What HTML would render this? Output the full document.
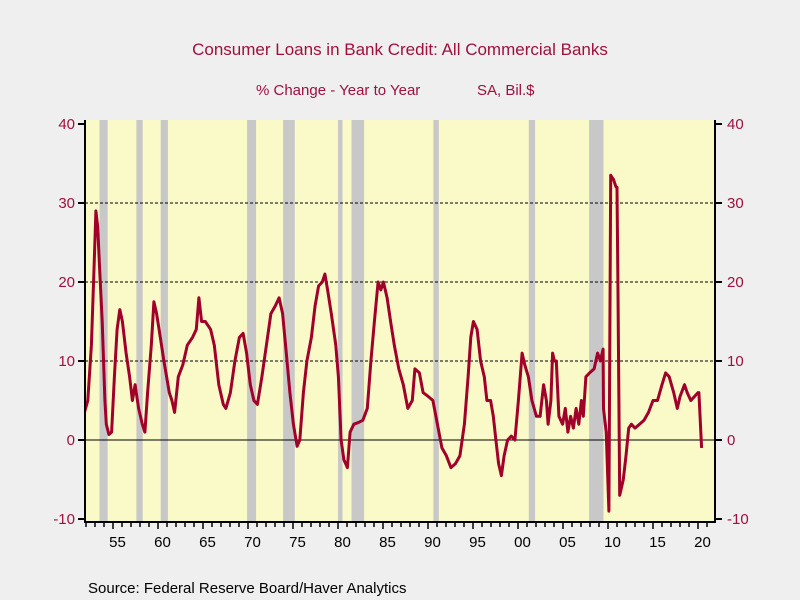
<!DOCTYPE html>
<html><head><meta charset="utf-8"><style>
html,body{margin:0;padding:0;background:#efefef;}
svg{display:block;font-family:"Liberation Sans",sans-serif;}
</style></head><body>
<svg id="s" width="800" height="600" viewBox="0 0 800 600">
<defs><clipPath id="cp"><rect x="86" y="118" width="628" height="404"/></clipPath></defs>
<rect width="800" height="600" fill="#efefef"/>
<text x="400" y="55" text-anchor="middle" font-size="17" fill="#a0103c">Consumer Loans in Bank Credit: All Commercial Banks</text>
<text x="256" y="95" font-size="15" fill="#a0103c">% Change - Year to Year</text>
<text x="477" y="95" font-size="15" fill="#a0103c">SA, Bil.$</text>
<text x="88" y="593" font-size="15" fill="#000">Source:  Federal Reserve Board/Haver Analytics</text>
<rect x="85" y="120" width="630" height="402" fill="#fafac8"/>
<g id="rec" fill="#c8c8c8"></g>
<g id="grid"></g>
<polyline id="ln" clip-path="url(#cp)" fill="none" stroke="#a0002a" stroke-width="3" stroke-linejoin="round"/>
<g id="ax" stroke="#000" stroke-width="2" fill="none"></g>
<g id="lab" font-size="15" fill="#a0103c"></g>
<g id="xl" font-size="15" fill="#000" text-anchor="middle"></g>
</svg>
<script>
var NS="http://www.w3.org/2000/svg";
function X(y){return 113+9.0*(y-1955);}
function Y(v){return 440-7.9*v;}
function el(p,t,a,txt){var e=document.createElementNS(NS,t);for(var k in a)e.setAttribute(k,a[k]);if(txt!==undefined)e.textContent=txt;document.getElementById(p).appendChild(e);return e;}
var rec=[[1953.5,1954.4],[1957.6,1958.3],[1960.3,1961.1],[1969.9,1970.9],[1973.9,1975.2],[1980.0,1980.5],[1981.5,1982.9],[1990.6,1991.2],[2001.2,2001.9],[2007.9,2009.5]];
rec.forEach(function(r){el("rec","rect",{x:X(r[0]),y:120,width:X(r[1])-X(r[0]),height:402});});
[10,20,30].forEach(function(v){el("grid","line",{x1:85,x2:715,y1:Y(v),y2:Y(v),stroke:"#000","stroke-width":1,"stroke-dasharray":"3,2"});});
el("grid","line",{x1:85,x2:715,y1:Y(0),y2:Y(0),stroke:"#000","stroke-width":1});
var d=[1951.5,2,1951.8,5,1952.2,12,1952.5,22,1952.7,29,1952.9,27,1953.1,22,1953.4,15,1953.7,5,1954,2,1954.3,0.7,1954.6,1,1954.9,8,1955.2,14,1955.5,16.5,1955.8,15,1956.2,11,1956.6,8,1956.9,5,1957.2,7,1957.6,4,1958,2,1958.3,1,1958.6,6,1959,12,1959.3,17.5,1959.6,16,1960,13,1960.4,10,1960.7,8,1961,6,1961.3,5,1961.6,3.5,1962,8,1962.5,9.5,1963,12,1963.6,13,1964,14,1964.3,18,1964.6,15,1965,15,1965.6,14,1966,12,1966.5,7,1967,4.5,1967.3,4,1967.8,6,1968.3,10,1968.8,13,1969.2,13.5,1969.6,11,1970,7,1970.4,5,1970.8,4.5,1971.3,8,1971.8,12,1972.3,16,1972.8,17,1973.2,18,1973.6,16,1974,11,1974.4,6,1974.8,2,1975.2,-0.8,1975.5,0,1975.9,6,1976.3,10,1976.8,13,1977.2,17,1977.6,19.5,1978,20,1978.3,21,1978.6,19,1979,16,1979.5,12,1979.8,8,1980.1,0,1980.4,-2.5,1980.8,-3.5,1981.1,1,1981.5,2,1982,2.2,1982.5,2.5,1983,4,1983.4,10,1983.8,15,1984.2,20,1984.5,19,1984.8,20,1985.2,18,1985.6,15,1986,12,1986.5,9,1987,7,1987.5,4,1988,5,1988.3,9,1988.8,8.5,1989.2,6,1989.8,5.5,1990.3,5,1990.8,2,1991.3,-1,1991.8,-2,1992.3,-3.5,1992.8,-3,1993.3,-2,1993.8,2,1994.2,8,1994.5,13,1994.8,15,1995.2,14,1995.6,10,1996,8,1996.3,5,1996.7,5,1997,3,1997.3,0,1997.6,-3,1997.9,-4.5,1998.2,-2,1998.6,0,1999,0.5,1999.4,0,1999.8,5,2000.2,11,2000.5,9.5,2000.9,8,2001.3,5,2001.8,3,2002.2,3,2002.6,7,2002.9,5,2003.1,2,2003.4,5,2003.6,11,2003.8,10,2004,10,2004.3,3,2004.7,2,2005,4,2005.3,1,2005.6,3,2005.9,1.5,2006.2,4,2006.5,2,2006.8,5,2007,3,2007.3,8,2007.7,8.5,2008.2,9,2008.6,11,2008.9,10,2009.2,11.5,2009.5,4,2009.8,1,2010.1,-9,2010.3,33.5,2010.6,33,2010.9,32,2011.0,32,2011.1,20,2011.3,-7,2011.7,-5,2012,-2,2012.3,1.5,2012.6,2,2013,1.5,2013.5,2,2014,2.5,2014.5,3.5,2015,5,2015.5,5,2016,7,2016.4,8.5,2016.8,8,2017.3,6,2017.7,4,2018,5.5,2018.5,7,2018.8,6,2019.2,5,2019.6,5.5,2020,6,2020.1,6,2020.4,-1];
var pts=[];for(var i=0;i<d.length;i+=2){var yr=d[i];
if(i==0)yr=1951.45;else if(yr<1954)yr+=0.4;else if(yr<2009.4)yr+=0.25;
pts.push(X(yr).toFixed(1)+","+Y(d[i+1]).toFixed(1));}
document.getElementById("ln").setAttribute("points",pts.join(" "));
el("ax","polyline",{points:"85,120 85,522 715,522 715,120"});
[-10,0,10,20,30,40].forEach(function(v){var y=Y(v);
el("ax","line",{x1:78,x2:85,y1:y,y2:y});el("ax","line",{x1:715,x2:722,y1:y,y2:y});
el("lab","text",{x:75,y:y+5,"text-anchor":"end"},String(v));
el("lab","text",{x:727,y:y+5},String(v));});
for(var yr=1952;yr<=2022;yr++){var x=X(yr);if(x<86||x>714)continue;el("ax","line",{x1:x,x2:x,y1:522,y2:(yr%5==0?529:527),"stroke-width":1.5});}
for(var yr=1955;yr<=2020;yr+=5){el("xl","text",{x:X(yr)+4.5,y:547},String(yr%100).padStart(2,"0"));}
</script>
</body></html>
